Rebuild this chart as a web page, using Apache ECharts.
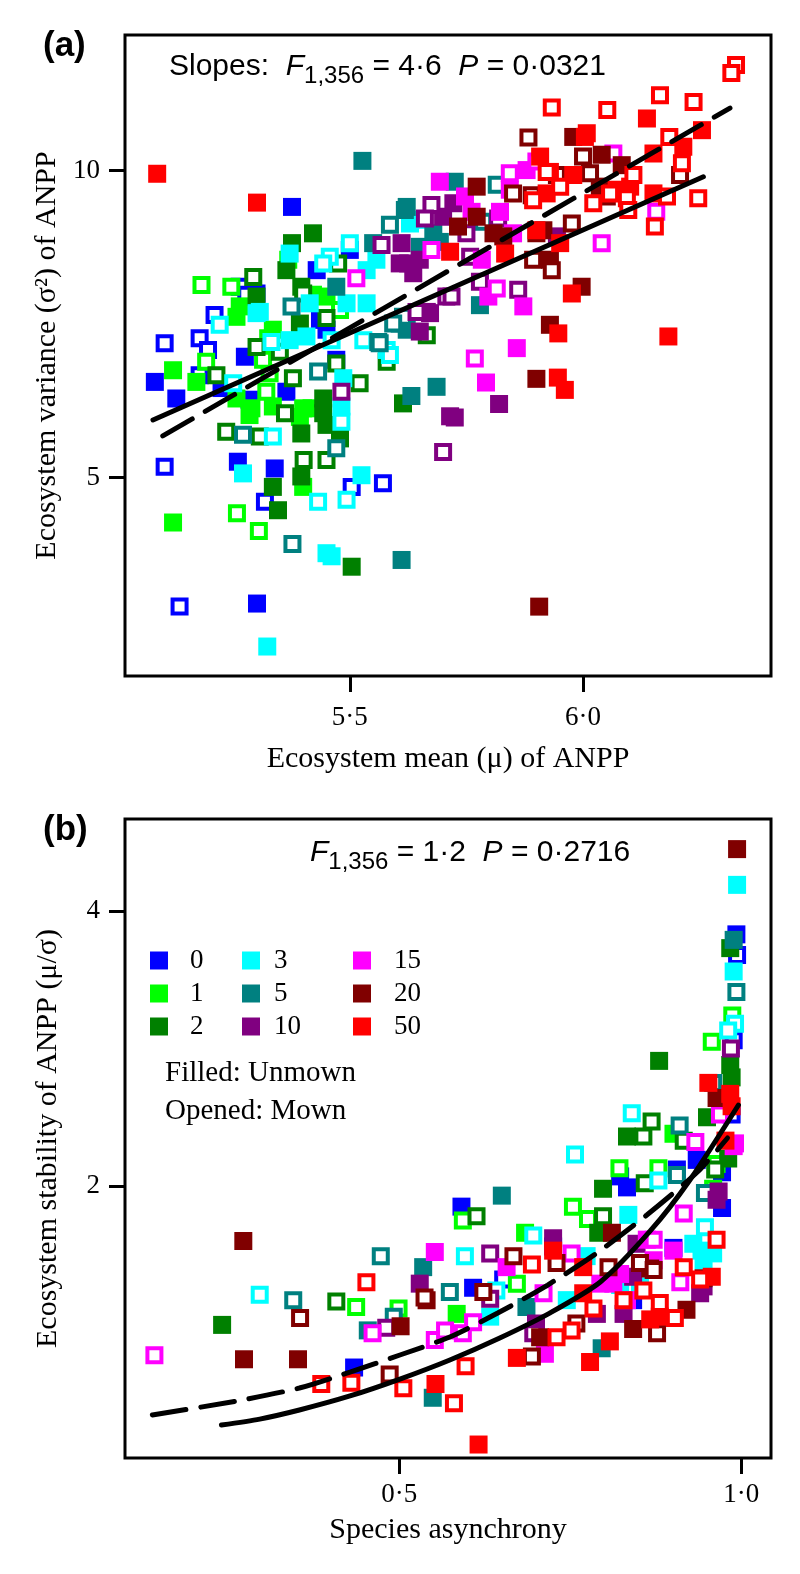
<!DOCTYPE html>
<html>
<head>
<meta charset="utf-8">
<script src="https://cdn.jsdelivr.net/npm/echarts@6/dist/echarts.min.js"></script>
<style>
  html, body { margin: 0; padding: 0; background: #fff; }
  #main { width: 800px; height: 1574px; }
</style>
</head>
<body>
<div id="main"></div>
<script>
// N addition levels, legend order
var levels = ['0', '1', '2', '3', '5', '10', '15', '20', '50'];
var colors = ['#0000ff', '#00ff00', '#008000', '#00ffff', '#008080', '#800080', '#ff00ff', '#800000', '#ff0000'];

// tick values
var aXTicks = [5.5, 6.0];
var aYTicks = [5, 10];
var bXTicks = [0.5, 1.0];
var bYTicks = [2, 4];

// (a) [mean, variance] per level, unmown plots (filled)
var aUnmown = [
  [[5.376,9.41],[5.5,8.71],[5.429,8.38],[5.436,7.57],[5.082,6.56],[5.128,6.29],[5.225,6.46],[5.275,6.97],[5.285,6.27],[5.364,6.40],[5.26,5.26],[5.339,5.15],[5.301,2.95],[5.45,7.41],[5.471,6.92]],
  [[5.257,7.62],[5.45,7.95],[5.335,7.41],[5.121,6.75],[5.171,6.56],[5.257,6.29],[5.285,6.02],[5.40,6.13],[5.40,4.85],[5.121,4.27],[5.421,7.98],[5.264,7.79],[5.289,6.13],[5.335,6.16],[5.393,5.99],[5.418,6.13]],
  [[5.421,8.98],[5.376,8.82],[5.364,8.38],[5.30,7.95],[5.396,8.11],[5.393,7.51],[5.443,6.05],[5.443,6.29],[5.45,5.86],[5.479,5.64],[5.396,5.72],[5.335,4.85],[5.396,5.02],[5.346,4.47],[5.504,3.55],[5.614,6.21]],
  [[5.629,9.14],[5.371,8.65],[5.536,8.38],[5.557,8.55],[5.30,7.68],[5.414,7.84],[5.493,7.84],[5.371,7.24],[5.482,6.16],[5.271,5.07],[5.525,5.04],[5.45,3.77],[5.461,3.72],[5.323,2.25],[5.536,7.84],[5.307,7.70],[5.407,7.30],[5.486,6.62],[5.65,9.20]],
  [[5.527,10.16],[5.618,9.36],[5.55,8.82],[5.679,8.98],[5.471,8.11],[5.607,7.51],[5.622,7.41],[5.779,7.81],[5.725,9.82],[5.693,8.84],[5.686,6.48],[5.632,6.33],[5.611,3.66],[5.622,9.41],[5.65,8.76]],
  [[5.611,8.82],[5.625,8.49],[5.65,8.55],[5.672,7.68],[5.65,7.38],[5.665,7.70],[5.722,9.47],[5.944,8.93],[5.715,6.0],[5.82,6.20],[5.725,5.98],[5.70,9.25],[5.607,8.49],[5.636,8.33]],
  [[5.693,9.82],[5.879,10.01],[5.747,9.58],[5.783,8.55],[5.872,7.79],[5.797,7.95],[5.858,7.11],[5.761,9.33],[5.792,6.55],[5.822,9.33],[5.843,9.69],[5.85,8.98]],
  [[5.979,10.55],[6.04,10.26],[6.083,10.09],[5.772,9.74],[5.915,9.03],[5.829,8.93],[5.929,8.55],[5.997,8.11],[5.929,7.49],[5.732,9.09],[5.90,6.61],[5.906,2.90],[5.808,8.98],[6.036,9.74],[5.772,9.25]],
  [[5.087,9.95],[5.301,9.48],[6.137,10.85],[6.255,10.66],[6.004,10.55],[6.151,10.28],[6.215,10.39],[5.929,9.98],[5.979,9.93],[6.151,9.63],[5.922,9.63],[5.951,8.82],[5.833,8.65],[5.976,8.0],[5.947,7.35],[6.183,7.30],[5.715,8.68],[5.946,6.63],[5.961,6.43],[5.90,9.03],[6.101,9.74],[6.072,9.69],[5.908,10.23],[6.008,10.61]]
];
// (a) mown plots (open)
var aMown = [
  [[5.264,8.11],[5.30,8.0],[5.21,7.65],[5.103,7.19],[5.178,7.27],[5.196,7.08],[5.178,6.67],[5.103,5.18],[5.504,4.85],[5.571,4.91],[5.318,4.61],[5.135,2.90],[5.278,7.98]],
  [[5.368,8.55],[5.182,8.14],[5.246,8.11],[5.325,7.27],[5.192,6.89],[5.321,6.40],[5.328,6.70],[5.258,4.42],[5.305,4.13],[5.479,7.73],[5.314,6.92]],
  [[5.475,8.49],[5.293,8.27],[5.40,8.0],[5.45,7.60],[5.665,7.32],[5.30,7.13],[5.35,7.05],[5.214,6.67],[5.378,6.62],[5.361,6.05],[5.471,6.86],[5.521,6.54],[5.235,5.75],[5.307,5.67],[5.401,5.29],[5.45,5.29],[5.579,6.89]],
  [[5.5,8.82],[5.457,8.60],[5.443,8.49],[5.221,7.49],[5.529,7.24],[5.579,7.08],[5.332,7.21],[5.25,6.54],[5.482,5.91],[5.335,5.67],[5.432,4.61],[5.493,4.64],[5.461,7.24],[5.586,7.0]],
  [[5.586,9.12],[5.561,7.21],[5.614,7.62],[5.375,7.79],[5.432,6.73],[5.271,5.70],[5.471,5.48],[5.377,3.92],[5.815,9.77],[5.786,9.17],[5.593,7.51],[5.564,7.19]],
  [[5.675,9.44],[5.661,9.22],[5.568,8.79],[5.643,7.70],[5.707,7.95],[5.758,8.60],[5.779,8.19],[5.861,8.06],[5.718,7.95],[5.818,9.22],[5.75,8.98],[5.482,6.40],[5.70,5.42]],
  [[5.675,8.71],[5.514,8.25],[6.065,10.28],[5.90,10.15],[6.157,9.33],[6.04,8.82],[5.815,8.08],[5.768,6.94],[5.843,9.96]],
  [[5.883,10.54],[6.208,9.93],[6.0,10.23],[5.944,9.93],[6.015,9.96],[5.85,9.63],[6.051,9.58],[5.976,9.14],[5.90,8.98],[5.933,8.38],[5.893,8.55],[5.89,9.60]],
  [[6.328,11.72],[6.318,11.59],[5.933,11.03],[6.052,10.99],[6.165,11.23],[6.237,11.12],[6.185,10.55],[6.212,10.12],[6.108,9.93],[5.922,9.98],[6.18,9.58],[6.247,9.55],[6.154,9.09],[6.058,9.63],[6.094,9.55],[6.022,9.47],[6.097,9.36],[5.893,9.52],[5.951,9.74]]
];
// (a) fitted lines
var aSolid = [[5.078,5.94],[6.258,9.90]];
var aDashed = [[5.099,5.68],[6.315,11.02]];

// (b) [asynchrony, stability] per level, unmown (filled)
var bUnmown = [
  [[0.993,3.83],[0.823,2.07],[0.833,1.99],[0.906,2.12],[0.935,2.19],[0.972,2.10],[0.972,1.84],[0.591,1.85],[0.901,1.55],[0.608,1.26],[0.434,0.68],[0.725,1.56],[0.842,1.17]],
  [[0.901,2.38],[0.684,1.66],[0.584,1.07]],
  [[0.984,3.73],[0.88,2.91],[0.984,2.88],[0.986,2.79],[0.833,2.36],[0.95,2.50],[0.798,1.98],[0.981,2.20],[0.791,1.66],[0.241,0.99]],
  [[0.994,4.19],[0.989,3.56],[0.835,1.79],[0.774,1.49],[0.942,1.53],[0.633,1.05],[0.93,1.58],[0.945,1.46],[0.823,1.28],[0.745,1.17],[0.852,1.27],[0.959,1.51]],
  [[0.989,3.79],[0.65,1.93],[0.796,0.82],[0.549,0.46],[0.535,1.41],[0.454,0.95],[0.686,1.12]],
  [[0.967,1.96],[0.725,1.62],[0.847,1.58],[0.94,1.22],[0.53,1.29],[0.964,1.90],[0.945,1.27],[0.789,1.07],[0.70,1.0],[0.842,1.34],[0.828,1.07]],
  [[0.991,2.31],[0.552,1.52],[0.813,1.29],[0.713,0.78],[0.989,2.29],[0.862,1.61],[0.872,1.46],[0.823,1.36],[0.833,1.17],[0.901,1.53],[0.794,1.29],[0.657,1.41]],
  [[0.994,4.45],[0.964,2.64],[0.811,1.66],[0.92,1.10],[0.842,0.96],[0.272,1.60],[0.273,0.74],[0.352,0.74],[0.502,0.98],[0.867,1.40],[0.706,0.90]],
  [[0.952,2.75],[0.984,2.67],[0.986,2.58],[0.977,2.33],[0.725,1.53],[0.957,1.34],[0.881,1.05],[0.808,0.87],[0.779,0.72],[0.672,0.75],[0.553,0.56],[0.616,0.12],[0.769,1.22],[0.769,1.41],[0.867,1.03]]
];
// (b) mown (open)
var bMown = [
  [[0.994,3.68],[0.989,3.06],[0.986,2.52],[0.652,1.32]],
  [[0.987,3.24],[0.957,3.05],[0.822,2.13],[0.879,2.13],[0.964,2.16],[0.959,1.98],[0.754,1.85],[0.776,1.76],[0.593,1.75],[0.672,1.29],[0.437,1.12],[0.499,1.11]],
  [[0.869,2.47],[0.857,2.36],[0.916,2.33],[0.859,2.02],[0.962,2.12],[0.798,1.78],[0.613,1.78],[0.408,1.16]],
  [[0.991,3.18],[0.981,3.13],[0.84,2.53],[0.757,2.23],[0.879,2.04],[0.947,1.70],[0.696,1.64],[0.596,1.49],[0.642,1.24],[0.296,1.21]],
  [[0.993,3.41],[0.959,2.75],[0.91,2.44],[0.906,2.08],[0.947,1.95],[0.574,1.23],[0.473,1.49],[0.345,1.17],[0.492,1.05]],
  [[0.985,3.0],[0.633,1.51],[0.633,1.18],[0.696,0.93],[0.481,0.97]],
  [[0.969,2.52],[0.933,2.32],[0.916,1.80],[0.752,1.51],[0.911,1.30],[0.711,1.22],[0.552,0.88],[0.567,0.95],[0.593,0.93],[0.608,1.01],[0.142,0.77],[0.461,0.93],[0.872,1.61]],
  [[0.667,1.49],[0.73,1.44],[0.806,1.41],[0.852,1.44],[0.872,1.39],[0.945,1.33],[0.877,0.93],[0.759,1.0],[0.694,0.76],[0.623,1.23],[0.54,1.17],[0.355,1.04],[0.537,1.19],[0.486,0.63]],
  [[0.964,1.61],[0.694,1.43],[0.916,1.41],[0.857,1.24],[0.828,1.17],[0.881,1.15],[0.903,1.04],[0.784,1.11],[0.73,0.90],[0.752,0.95],[0.597,0.69],[0.58,0.42],[0.452,1.30],[0.386,0.56],[0.43,0.57],[0.506,0.53],[0.94,1.32]]
];
// (b) fitted curves
var bSolid = [[0.240,0.262],[0.296,0.305],[0.354,0.371],[0.428,0.473],[0.501,0.596],[0.574,0.735],[0.647,0.895],[0.720,1.076],[0.794,1.302],[0.867,1.673],[0.925,2.044],[0.996,2.589]];
var bDashed = [[0.139,0.335],[0.262,0.436],[0.354,0.531],[0.428,0.647],[0.501,0.771],[0.574,0.902],[0.644,1.076],[0.717,1.280],[0.789,1.513],[0.862,1.789],[0.936,2.102],[0.980,2.349]];

var serif = 'Liberation Serif';
var sans = 'Liberation Sans';

function dotFmt(v) {
  return v.toFixed(1).replace('.', '\u00b7');
}

function axis(gi, min, max, ticks, fmt, name, gap, rot, margin) {
  return {
    gridIndex: gi,
    type: 'value',
    min: min,
    max: max,
    name: name,
    nameLocation: 'middle',
    nameGap: gap,
    nameRotate: rot,
    nameTextStyle: { fontFamily: serif, fontSize: 30, color: '#000' },
    axisLine: { show: false },
    axisTick: { show: true, length: 16, customValues: ticks, lineStyle: { color: '#000', width: 3 } },
    axisLabel: { customValues: ticks, formatter: fmt, fontFamily: serif, fontSize: 27, color: '#000', margin: margin },
    splitLine: { show: false }
  };
}

var series = [];
function pointSeries(data, gi, i, filled) {
  return {
    name: filled ? levels[i] : levels[i] + ' mown',
    type: 'scatter',
    xAxisIndex: gi,
    yAxisIndex: gi,
    symbol: 'rect',
    symbolSize: filled ? 18 : 14,
    itemStyle: filled
      ? { color: colors[i], opacity: 1 }
      : { color: '#ffffff', borderColor: colors[i], borderWidth: 4, opacity: 1 },
    emphasis: { disabled: true },
    data: data[i],
    z: 2
  };
}
function addPanel(filledData, openData, gi) {
  for (var i = 0; i < levels.length; i++) {
    series.push(pointSeries(filledData, gi, i, true));
    series.push(pointSeries(openData, gi, i, false));
  }
}
function addLine(data, gi, dashed) {
  series.push({
    type: 'line',
    xAxisIndex: gi,
    yAxisIndex: gi,
    showSymbol: false,
    smooth: data.length > 2 ? 0.25 : false,
    data: data,
    lineStyle: { color: '#000', width: 5, type: dashed ? [34, 15] : 'solid', cap: 'round' },
    emphasis: { disabled: true },
    z: 5
  });
}

addPanel(aUnmown, aMown, 0);
addPanel(bUnmown, bMown, 1);
addLine(aSolid, 0, false);
addLine(aDashed, 0, true);
addLine(bSolid, 1, false);
addLine(bDashed, 1, true);

function legendCol(names, left, pad) {
  return {
    orient: 'vertical',
    left: left,
    top: 942,
    itemWidth: 18,
    itemHeight: 18,
    itemGap: 6,
    icon: 'rect',
    selectedMode: false,
    data: names,
    textStyle: { fontFamily: serif, fontSize: 27, color: '#000', lineHeight: 26, padding: [0, 0, 0, pad] }
  };
}

var rich = {
  n: { fontFamily: sans, fontSize: 30, fontWeight: 'normal', color: '#000', lineHeight: 42 },
  i: { fontFamily: sans, fontSize: 30, fontWeight: 'normal', color: '#000', lineHeight: 42, fontStyle: 'italic' },
  s: { fontFamily: sans, fontSize: 24, fontWeight: 'normal', color: '#000', lineHeight: 26, verticalAlign: 'bottom' }
};

var chart = echarts.init(document.getElementById('main'), null, { renderer: 'canvas' });
var option = {
  animation: false,
  backgroundColor: '#fff',
  grid: [
    { left: 125, top: 35, width: 646, height: 641, show: true, borderColor: '#000', borderWidth: 3 },
    { left: 125, top: 819, width: 646, height: 639, show: true, borderColor: '#000', borderWidth: 3 }
  ],
  xAxis: [
    axis(0, 5.018, 6.403, aXTicks, dotFmt, 'Ecosystem mean (\u03bc) of ANPP', 68, 0, 28),
    axis(1, 0.099, 1.0436, bXTicks, dotFmt, 'Species asynchrony', 57, 0, 23)
  ],
  yAxis: [
    axis(0, 1.77, 12.21, aYTicks, function (v) { return String(v); }, 'Ecosystem variance (\u03c3\u00b2) of ANPP', 62, 90, 25),
    axis(1, 0.022, 4.669, bYTicks, function (v) { return String(v); }, 'Ecosystem stability of ANPP (\u03bc/\u03c3)', 62, 90, 25)
  ],
  title: [
    { text: '{n|Slopes:  }{i|F}{s|1,356}{n| = 4\u00b76  }{i|P}{n| = 0\u00b70321}', left: 169, top: 46, padding: 0, textStyle: { fontWeight: 'normal', rich: rich } },
    { text: '{i|F}{s|1,356}{n| = 1\u00b72  }{i|P}{n| = 0\u00b72716}', left: 310, top: 832, padding: 0, textStyle: { fontWeight: 'normal', rich: rich } }
  ],
  legend: [
    legendCol(['0', '1', '2'], 145, 17),
    legendCol(['3', '5', '10'], 237, 9),
    legendCol(['15', '20', '50'], 348, 18)
  ],
  graphic: [
    { type: 'text', x: 43, y: 46, style: { text: '(a)', font: 'bold 35px "Liberation Sans"', fill: '#000', textVerticalAlign: 'middle' } },
    { type: 'text', x: 43, y: 830, style: { text: '(b)', font: 'bold 35px "Liberation Sans"', fill: '#000', textVerticalAlign: 'middle' } },
    { type: 'text', x: 165, y: 1073, style: { text: 'Filled: Unmown', font: '29px "Liberation Serif"', fill: '#000', textVerticalAlign: 'middle' } },
    { type: 'text', x: 165, y: 1111, style: { text: 'Opened: Mown', font: '29px "Liberation Serif"', fill: '#000', textVerticalAlign: 'middle' } }
  ],
  series: series
};
chart.setOption(option);
</script>
</body>
</html>
